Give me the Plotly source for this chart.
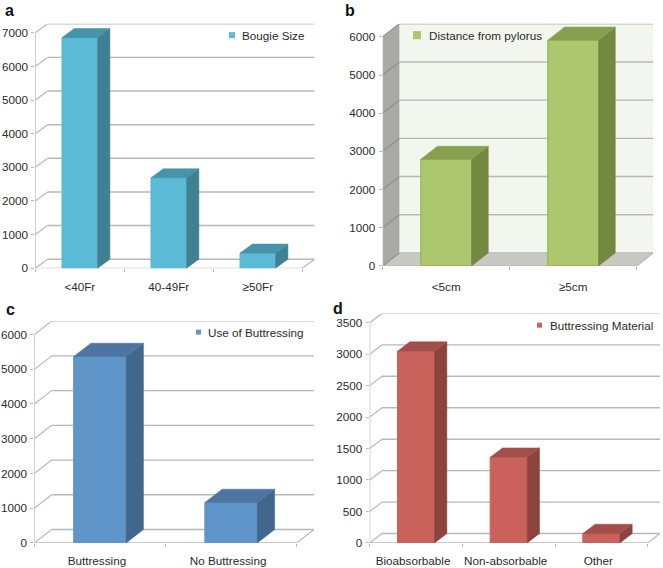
import plotly.graph_objects as go

W, H = 663, 568
FIG_H = 576
FONT = "Liberation Sans"
TEXT = "#2b2b2b"
GRID = "#b8b8b8"
FS = 11.7

# ---- data ----
a_categories = ["<40Fr", "40-49Fr", "≥50Fr"]
a_values = [6860, 2690, 450]
a_ticks = [0, 1000, 2000, 3000, 4000, 5000, 6000, 7000]

b_categories = ["<5cm", "≥5cm"]
b_values = [2795, 5913]
b_ticks = [0, 1000, 2000, 3000, 4000, 5000, 6000]

c_categories = ["Buttressing", "No Buttressing"]
c_values = [5365, 1163]
c_ticks = [0, 1000, 2000, 3000, 4000, 5000, 6000]

d_categories = ["Bioabsorbable", "Non-absorbable", "Other"]
d_values = [3048, 1362, 149]
d_ticks = [0, 500, 1000, 1500, 2000, 2500, 3000, 3500]

# ---- panel layout and style (pixels) ----
panels = [
    dict(letter="a", letter_xy=(9, 10), cats=a_categories, vals=a_values, ticks=a_ticks, name="Bougie Size",
         x0=35.3, x1=302.3, y0=267.3, top=23.7, dx=12.3, dy=9, lshift=0, standoff=10,
         front="#5bbad5", side="#3f8092", topc="#4793a9", edge="#5bbad5", walls=False,
         swatch=(229, 235, 35, 6), text_x=241),
    dict(letter="b", letter_xy=(350, 10), cats=b_categories, vals=b_values, ticks=b_ticks, name="Distance from pylorus",
         x0=382.7, x1=636.7, y0=265, top=23.7, dx=16.7, dy=13, lshift=0, standoff=12,
         front="#acc76d", side="#74893f", topc="#86a04f", edge="#8fb050", walls=True,
         swatch=(413, 421, 35, 8), text_x=428),
    dict(letter="c", letter_xy=(10, 308), cats=c_categories, vals=c_values, ticks=c_ticks, name="Use of Buttressing",
         x0=34.3, x1=296.7, y0=541, top=320, dx=17.3, dy=13.3, lshift=-3, standoff=9,
         front="#6095c9", side="#41678d", topc="#4e74a1", edge="#6095c9", walls=False,
         swatch=(196, 201, 331, 5), text_x=207),
    dict(letter="d", letter_xy=(338, 307), cats=d_categories, vals=d_values, ticks=d_ticks, name="Buttressing Material",
         x0=369.7, x1=647.7, y0=541, top=312.3, dx=12.3, dy=9.3, lshift=-3, standoff=9,
         front="#ca625c", side="#8c433e", topc="#a24e49", edge="#ca625c", walls=False,
         swatch=(537, 542, 324, 5), text_x=549),
]

BAR_WIDTH = 0.4

fig = go.Figure()
shapes, annotations = [], []
layout_axes = {}


def poly(xs, ys):
    path = "M" + "L".join(f"{x},{y}" for x, y in zip(xs, ys)) + "Z"
    return path


for i, p in enumerate(panels):
    s = "" if i == 0 else str(i + 1)
    xa, ya = f"x{s}", f"y{s}"
    n = len(p["cats"])
    cat_px = (p["x1"] - p["x0"]) / n
    vmax = p["ticks"][-1]
    ddx = p["dx"] / cat_px                      # depth in category units
    front_top_px = p["top"] + p["dy"]
    px_per_val = (p["y0"] - front_top_px) / vmax
    ddy = p["dy"] / px_per_val                  # depth in value units
    xl, xr = -0.5, n - 0.5

    layout_axes[f"xaxis{s}"] = dict(
        domain=[p["x0"] / W, (p["x1"] + p["dx"]) / W], range=[xl, xr + ddx],
        anchor=ya, tickvals=list(range(n)), ticktext=p["cats"], showgrid=False, zeroline=False,
        showline=False, ticks="", ticklabelstandoff=p["standoff"], ticklabelshift=p["lshift"],
        tickfont=dict(family=FONT, size=FS, color=TEXT),
        minor=dict(tickvals=[xl + k for k in range(n + 1)], ticks="outside", ticklen=3,
                   tickcolor=GRID, tickwidth=1, showgrid=False),
    )
    layout_axes[f"yaxis{s}"] = dict(
        domain=[1 - p["y0"] / H, 1 - p["top"] / H], range=[0, vmax + ddy],
        anchor=xa, tickvals=p["ticks"], ticktext=[str(t) for t in p["ticks"]], showgrid=False,
        zeroline=False, showline=False, ticks="outside", ticklen=3, tickcolor=GRID,
        ticklabelstandoff=1, tickfont=dict(family=FONT, size=FS, color=TEXT),
    )

    def add_shape(kind, **kw):
        shapes.append(dict(type=kind, xref=xa, yref=ya, layer="below", **kw))

    # walls and floor
    if p["walls"]:
        add_shape("path", path=poly([xl + ddx, xr + ddx, xr + ddx, xl + ddx], [ddy, ddy, vmax + ddy, vmax + ddy]),
                  fillcolor="#f3f6ef", line=dict(width=0))
        add_shape("path", path=poly([xl, xl + ddx, xl + ddx, xl], [0, ddy, vmax + ddy, vmax]),
                  fillcolor="#a9aaa5", line=dict(width=0))
        add_shape("path", path=poly([xl, xr, xr + ddx, xl + ddx], [0, 0, ddy, ddy]),
                  fillcolor="#c9c9c4", line=dict(width=0))
    # gridlines on back wall with diagonal connectors
    for t in p["ticks"]:
        col = "#8f908c" if p["walls"] else GRID
        add_shape("line", x0=xl, x1=xl + ddx, y0=t, y1=t + ddy, line=dict(color=col, width=1.2))
        add_shape("line", x0=xl + ddx, x1=xr + ddx, y0=t + ddy, y1=t + ddy, line=dict(color=GRID, width=1.4))
    # front axes
    add_shape("line", x0=xr, x1=xr + ddx, y0=0, y1=ddy, line=dict(color=GRID, width=1.2))
    add_shape("line", x0=xl, x1=xr, y0=0, y1=0, line=dict(color=GRID, width=1.2))
    add_shape("line", x0=xl, x1=xl, y0=0, y1=vmax, line=dict(color=GRID, width=1.2))

    # front faces
    fig.add_trace(go.Bar(x=list(range(n)), y=p["vals"], width=BAR_WIDTH, name=p["name"],
                         marker=dict(color=p["front"], line=dict(color=p["edge"], width=1)),
                         xaxis=xa, yaxis=ya, showlegend=False))
    # side and top faces derived from the values
    sx, sy, tx, ty = [], [], [], []
    for k, v in enumerate(p["vals"]):
        l, r = k - BAR_WIDTH / 2, k + BAR_WIDTH / 2
        sx += [r, r + ddx, r + ddx, r, r, None]
        sy += [0, ddy, v + ddy, v, 0, None]
        tx += [l, r, r + ddx, l + ddx, l, None]
        ty += [v, v, v + ddy, v + ddy, v, None]
    fig.add_trace(go.Scatter(x=sx, y=sy, mode="lines", fill="toself", fillcolor=p["side"],
                             line=dict(color=p["side"], width=0.5), xaxis=xa, yaxis=ya, showlegend=False,
                             hoverinfo="skip"))
    fig.add_trace(go.Scatter(x=tx, y=ty, mode="lines", fill="toself", fillcolor=p["topc"],
                             line=dict(color=p["topc"], width=0.5), xaxis=xa, yaxis=ya, showlegend=False,
                             hoverinfo="skip"))

    # legend: swatch and label
    sl, sr, sc, sz = p["swatch"]
    shapes.append(dict(type="rect", xref="paper", yref="paper", x0=sl / W, x1=sr / W,
                       y0=1 - (sc + sz / 2) / H, y1=1 - (sc - sz / 2) / H,
                       fillcolor=p["front"], line=dict(width=0)))
    annotations.append(dict(text=p["name"], xref="paper", yref="paper", x=p["text_x"] / W, y=1 - sc / H,
                            xanchor="left", yanchor="middle", showarrow=False, xshift=-1,
                            font=dict(family=FONT, size=FS, color=TEXT)))
    # panel letter
    lx, ly = p["letter_xy"]
    annotations.append(dict(text=f"<b>{p['letter']}</b>", xref="paper", yref="paper", x=lx / W, y=1 - ly / H,
                            xanchor="center", yanchor="middle", showarrow=False,
                            font=dict(family=FONT, size=16, color="#111111")))

fig.update_layout(
    width=W, height=FIG_H, autosize=False, margin=dict(l=0, r=0, t=0, b=0),
    paper_bgcolor="white", plot_bgcolor="rgba(0,0,0,0)", showlegend=False,
    shapes=shapes, annotations=annotations, **layout_axes,
)
fig.write_html("out.html", config=dict(displayModeBar=False))

# drop the browser's default page margin so the figure starts at the window corner
with open("out.html", encoding="utf-8") as f:
    page = f.read()
page = page.replace("<head>", "<head><style>html,body{margin:0;padding:0;overflow:hidden}</style>", 1)
with open("out.html", "w", encoding="utf-8") as f:
    f.write(page)
